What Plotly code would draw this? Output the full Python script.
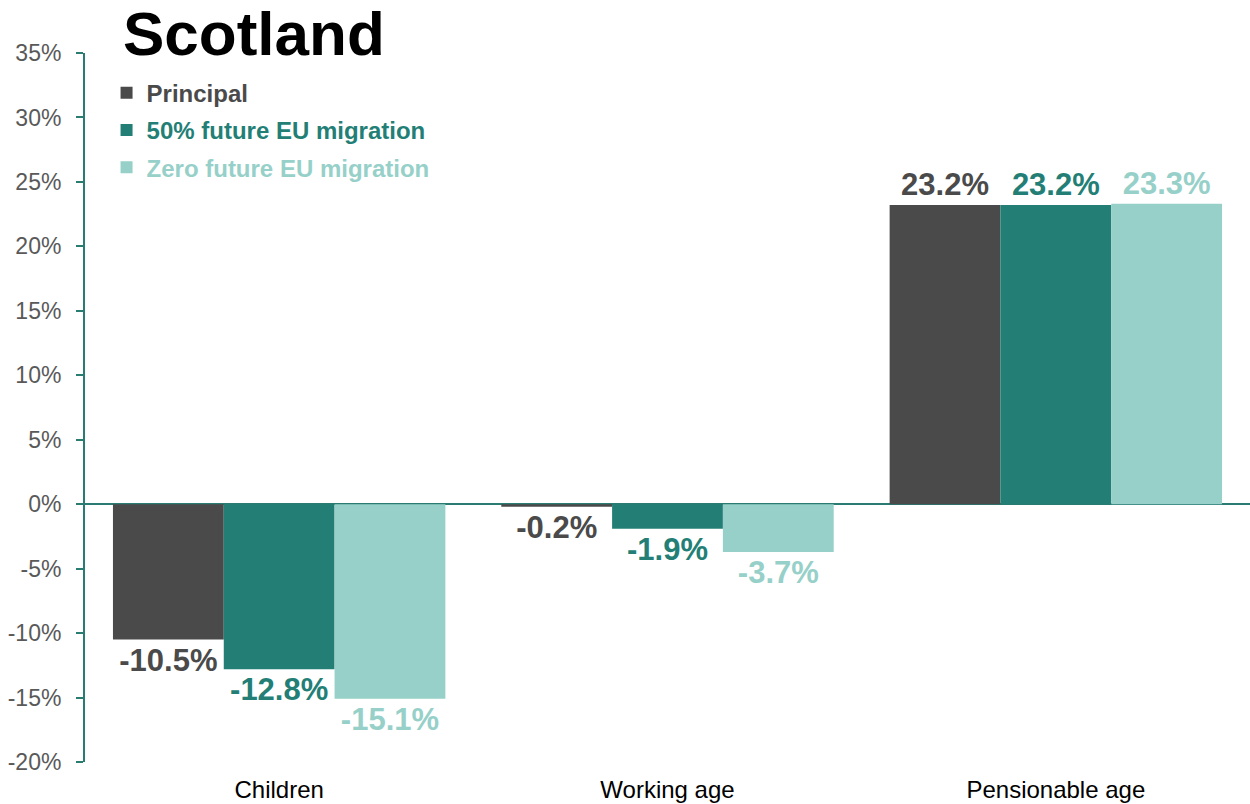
import plotly.graph_objects as go

categories = ["Children", "Working age", "Pensionable age"]
principal = [-10.5, -0.2, 23.2]
eu50 = [-12.8, -1.9, 23.2]
eu_zero = [-15.1, -3.7, 23.3]
series_names = ["Principal", "50% future EU migration", "Zero future EU migration"]
colors = ["#4A4A4A", "#237F76", "#96D0C9"]
tick_vals = [-20, -15, -10, -5, 0, 5, 10, 15, 20, 25, 30, 35]
tick_text = [f"{v}%" for v in tick_vals]

FONT = "Liberation Sans, Arial, sans-serif"
AXIS_COLOR = "#2A7B72"

fig = go.Figure()
for i, (name, vals) in enumerate(zip(series_names, [principal, eu50, eu_zero])):
    fig.add_trace(go.Bar(
        x=categories, y=vals, name=f"<b><span style='color:{colors[i]}'>{name}</span></b>",
        marker=dict(color=colors[i], line=dict(width=0)),
        text=[f"{v:.1f}%" for v in vals],
        textposition="outside",
        textfont=dict(family=FONT, size=31, color=colors[i]),
        texttemplate="<b>%{text}</b>",
        constraintext="none",
        cliponaxis=False,
        legendgroup=f"g{i}",
        hoverinfo="skip",
    ))

fig.update_layout(
    width=1250, height=804,
    margin=dict(l=85, r=0, t=53, b=42),
    paper_bgcolor="white", plot_bgcolor="white",
    barmode="group", bargap=0.144, bargroupgap=0,
    font=dict(family=FONT),
    showlegend=True,
    legend=dict(
        x=0.0185, y=0.975, xanchor="left", yanchor="top",
        font=dict(family=FONT, size=24),
        tracegroupgap=3, itemwidth=30,
        bgcolor="rgba(0,0,0,0)",
    ),
    xaxis=dict(
        showline=False, showgrid=False, ticks="",
        tickfont=dict(family=FONT, size=24, color="#000000"),
        ticklabelstandoff=11,
    ),
    yaxis=dict(
        range=[-20, 35], tickvals=tick_vals, ticktext=tick_text,
        showgrid=False, showline=True, linecolor=AXIS_COLOR, linewidth=2,
        ticks="outside", ticklen=7, tickcolor=AXIS_COLOR, tickwidth=2,
        tickfont=dict(family=FONT, size=23, color="#595959"),
        zeroline=True, zerolinecolor=AXIS_COLOR, zerolinewidth=2,
        ticklabelstandoff=10,
    ),
    annotations=[dict(
        text="<b>Scotland</b>", xref="paper", yref="paper",
        x=(121 - 85) / 1165, y=1.0, xanchor="left", yanchor="bottom",
        yshift=-17, showarrow=False,
        font=dict(family=FONT, size=62, color="#000000"),
    )],
)

fig.write_html("out.html")
